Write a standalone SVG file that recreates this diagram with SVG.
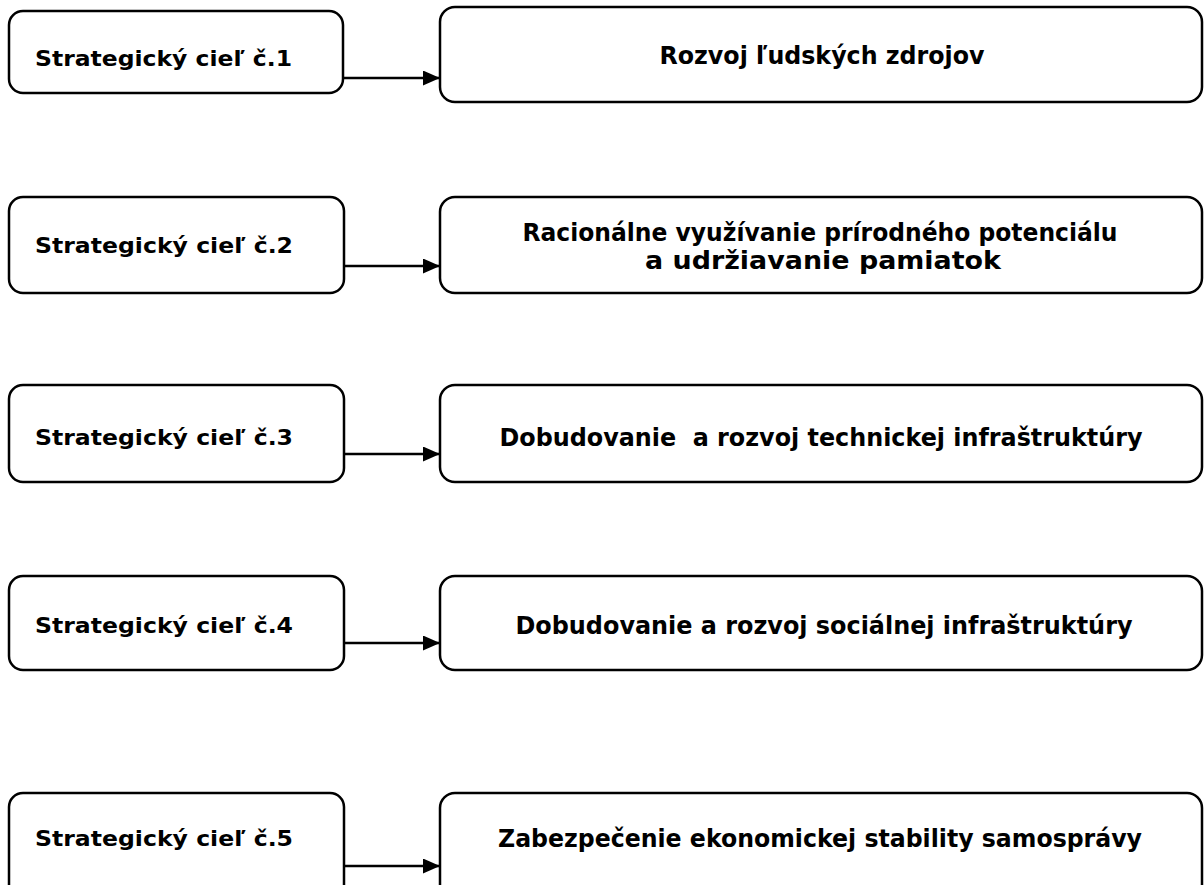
<svg xmlns="http://www.w3.org/2000/svg" width="1204" height="885" viewBox="0 0 1204 885">
<style>
.box{fill:#fff;stroke:#000;stroke-width:2.5}
.lt{font-family:"DejaVu Sans","Verdana",sans-serif;font-weight:bold;font-size:22px;fill:#000}
.rt{font-family:"DejaVu Sans","Verdana",sans-serif;font-weight:bold;font-size:25px;fill:#000;text-anchor:middle;white-space:pre}
.cn{stroke:#000;stroke-width:2.5;fill:none}
</style>
<defs>
<marker id="ah" markerWidth="17" markerHeight="15" refX="17" refY="7.5" orient="auto" markerUnits="userSpaceOnUse">
<path d="M0,0 L17,7.5 L0,15 Z" fill="#000"/>
</marker>
</defs>
<rect width="1204" height="885" fill="#fff"/>
<g id="goal1"><rect class="box" x="9" y="11" width="334" height="82" rx="14"/><text class="lt" x="35" y="66" textLength="257" lengthAdjust="spacingAndGlyphs">Strategický cieľ č.1</text></g>
<g id="area1"><rect class="box" x="440" y="7" width="762" height="95" rx="15"/><text class="rt" x="822" y="64" textLength="325" lengthAdjust="spacingAndGlyphs">Rozvoj ľudských zdrojov</text></g>
<g id="goal2"><rect class="box" x="9" y="197" width="335" height="96" rx="14"/><text class="lt" x="35" y="253" textLength="258" lengthAdjust="spacingAndGlyphs">Strategický cieľ č.2</text></g>
<g id="area2"><rect class="box" x="440" y="197" width="762" height="96" rx="15"/><text class="rt" x="820" y="241" textLength="595" lengthAdjust="spacingAndGlyphs">Racionálne využívanie prírodného potenciálu</text><text class="rt" x="823" y="269" textLength="356" lengthAdjust="spacingAndGlyphs">a udržiavanie pamiatok</text></g>
<g id="goal3"><rect class="box" x="9" y="385" width="335" height="97" rx="14"/><text class="lt" x="35" y="445" textLength="258" lengthAdjust="spacingAndGlyphs">Strategický cieľ č.3</text></g>
<g id="area3"><rect class="box" x="440" y="385" width="762" height="97" rx="15"/><text class="rt" x="821" y="446" textLength="643" lengthAdjust="spacingAndGlyphs">Dobudovanie  a rozvoj technickej infraštruktúry</text></g>
<g id="goal4"><rect class="box" x="9" y="576" width="335" height="94" rx="14"/><text class="lt" x="35" y="633" textLength="258" lengthAdjust="spacingAndGlyphs">Strategický cieľ č.4</text></g>
<g id="area4"><rect class="box" x="440" y="576" width="762" height="94" rx="15"/><text class="rt" x="824" y="634" textLength="617" lengthAdjust="spacingAndGlyphs">Dobudovanie a rozvoj sociálnej infraštruktúry</text></g>
<g id="goal5"><rect class="box" x="9" y="793" width="335" height="110" rx="14"/><text class="lt" x="35" y="846" textLength="258" lengthAdjust="spacingAndGlyphs">Strategický cieľ č.5</text></g>
<g id="area5"><rect class="box" x="440" y="793" width="762" height="110" rx="15"/><text class="rt" x="820" y="847" textLength="644" lengthAdjust="spacingAndGlyphs">Zabezpečenie ekonomickej stability samosprávy</text></g>
<g id="connectors">
<line class="cn" x1="343" y1="78" x2="440" y2="78" marker-end="url(#ah)"/>
<line class="cn" x1="344" y1="266" x2="440" y2="266" marker-end="url(#ah)"/>
<line class="cn" x1="344" y1="454" x2="440" y2="454" marker-end="url(#ah)"/>
<line class="cn" x1="344" y1="643" x2="440" y2="643" marker-end="url(#ah)"/>
<line class="cn" x1="344" y1="866" x2="440" y2="866" marker-end="url(#ah)"/>
</g>
</svg>
